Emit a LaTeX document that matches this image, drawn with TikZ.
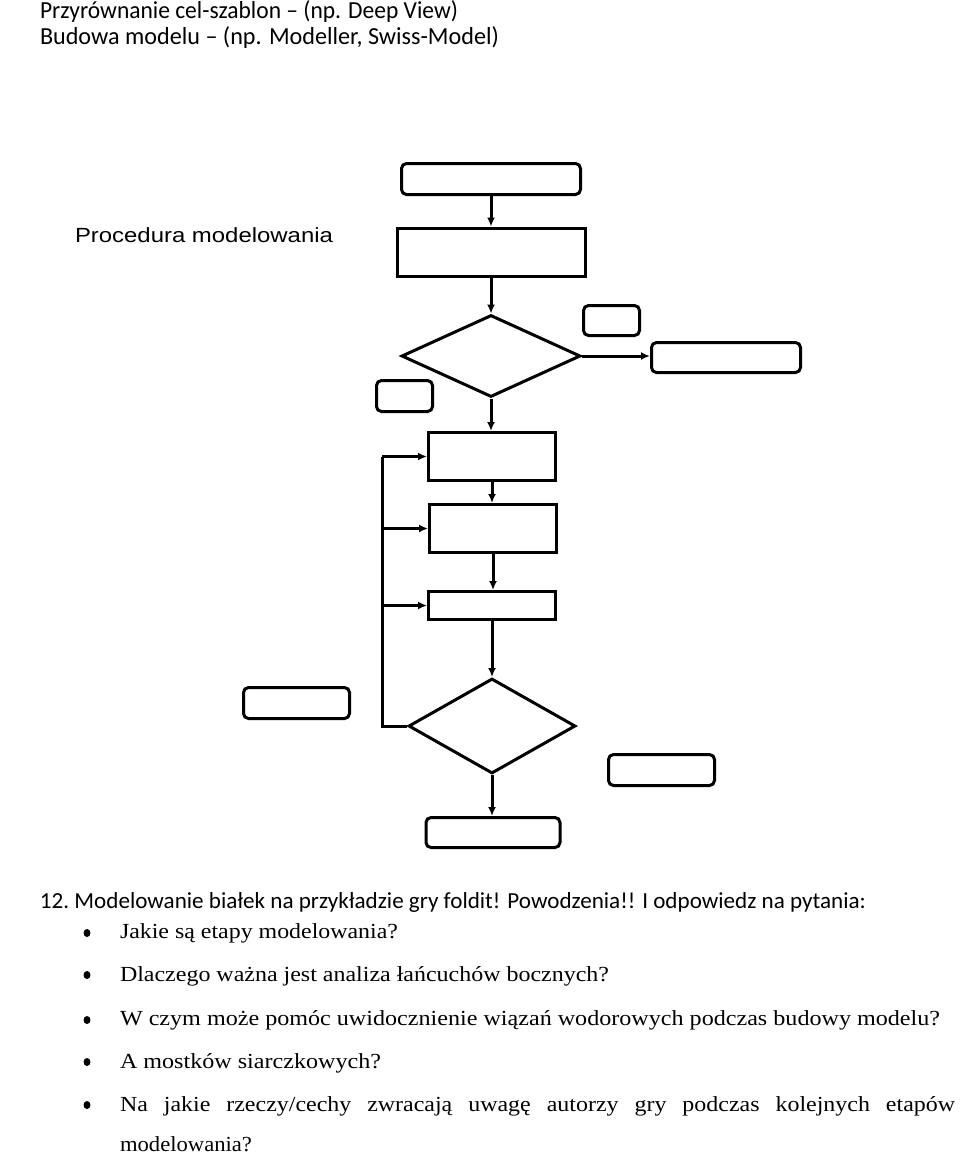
\documentclass[tikz,border=0pt]{standalone}
\usepackage{fontspec}
\usepackage{graphicx}
\setmainfont{Liberation Serif}
\newfontfamily\calibri{Carlito}
\newfontfamily\arialf{Liberation Sans}
\usetikzlibrary{shapes.geometric,arrows.meta}
\tikzset{
  ln/.style={line width=3pt},
  rbox/.style={draw, ln, rounded corners=5pt, inner sep=0pt},
  sbox/.style={draw, ln, inner sep=0pt},
  dia/.style={draw, ln, diamond, inner sep=0pt},
  arr/.style={ln, -{Latex[length=9pt,width=8pt]}},
  txt/.style={anchor=base west, inner sep=0pt, outer sep=0pt},
  bul/.style={fill=black, ellipse, inner sep=0pt, minimum width=7pt, minimum height=8pt}
}
\newcommand{\fit}[2]{\resizebox{#1}{\height}{#2}}
\begin{document}
\begin{tikzpicture}[x=1pt,y=-1pt]
\useasboundingbox (0,0) rectangle (960,1157);
% header text
\node[txt] (h1) at (40,18.5) {\fit{418pt}{\fontsize{24.5}{28}\calibri Przyrównanie cel-szablon – (np. Deep View)}};
\node[txt] (h2) at (40,44.5) {\fit{459pt}{\fontsize{24.5}{28}\calibri Budowa modelu – (np. Modeller, Swiss-Model)}};
\node[txt] (title) at (75,242) {\fit{258pt}{\fontsize{20.5}{24}\arialf Procedura modelowania}};
% flowchart
\node[rbox, minimum width=179pt, minimum height=31pt] (top) at (491,179) {};
\node[sbox, minimum width=188pt, minimum height=48pt] (r2) at (491,252) {};
\node[dia, minimum width=179pt, minimum height=82pt] (d1) at (491,356) {};
\node[rbox, minimum width=56pt, minimum height=30pt] (sr) at (611.5,320.5) {};
\node[rbox, minimum width=149pt, minimum height=30pt] (rb) at (726,357.5) {};
\node[rbox, minimum width=56pt, minimum height=31pt] (sl) at (404.5,396) {};
\node[sbox, minimum width=127pt, minimum height=48pt] (r3) at (492,456.5) {};
\node[sbox, minimum width=127pt, minimum height=48pt] (r4) at (493,528.5) {};
\node[sbox, minimum width=127pt, minimum height=28pt] (r5) at (492,605.5) {};
\node[dia, minimum width=167pt, minimum height=95pt] (d2) at (492,726) {};
\node[rbox, minimum width=106pt, minimum height=31pt] (lb2) at (296.5,703) {};
\node[rbox, minimum width=106pt, minimum height=31pt] (rb2) at (661.5,770) {};
\node[rbox, minimum width=134pt, minimum height=30pt] (fin) at (493,832.5) {};
% connectors
\draw[arr] (top.south) -- (top.south |- r2.north);
\draw[arr] (r2.south) -- (r2.south |- d1.north);
\draw[arr] (d1.east) -- (rb.west |- d1.east);
\draw[arr] (d1.south) -- (d1.south |- r3.north);
\draw[arr] (r3.south) -- (r3.south |- r4.north);
\draw[arr] (r4.south) -- (r4.south |- r5.north);
\draw[arr] (r5.south) -- (r5.south |- d2.north);
\draw[arr] (d2.south) -- (d2.south |- fin.north);
\coordinate (lp) at (382,726);
\coordinate (l3) at (382,456.5);
\coordinate (l4) at (382,528.5);
\coordinate (l5) at (382,605.5);
\draw[ln, line join=miter] (d2.west) -- (lp) -- (l3);
\draw[arr] (l3) -- (r3.west);
\draw[arr] (l4) -- (r4.west);
\draw[arr] (l5) -- (r5.west);
% questions
\node[txt] (q0) at (40,908) {\fit{826pt}{\fontsize{23}{26}\calibri 12.\ Modelowanie białek na przykładzie gry foldit! Powodzenia!! I odpowiedz na pytania:}};
\node[bul] (b1) at (87,933) {};
\node[bul] (b2) at (87,975) {};
\node[bul] (b3) at (87,1020) {};
\node[bul] (b4) at (87,1062) {};
\node[bul] (b5) at (87,1105) {};
\node[txt] (q1) at (120,938) {\fit{278pt}{\fontsize{21.5}{24}\selectfont Jakie są etapy modelowania?}};
\node[txt] (q2) at (120,981) {\fit{489pt}{\fontsize{21.5}{24}\selectfont Dlaczego ważna jest analiza łańcuchów bocznych?}};
\node[txt] (q3) at (120,1025) {\fit{820pt}{\fontsize{21.5}{24}\selectfont W czym może pomóc uwidocznienie wiązań wodorowych podczas budowy modelu?}};
\node[txt] (q4) at (120,1068) {\fit{261pt}{\fontsize{21.5}{24}\selectfont A mostków siarczkowych?}};
\node[txt] (q5) at (120,1111) {\fit{835pt}{\fontsize{21.5}{24}\selectfont\makebox[750pt][s]{Na jakie rzeczy/cechy zwracają uwagę autorzy gry podczas kolejnych etapów}}};
\node[txt] (q6) at (120,1151) {\fit{132pt}{\fontsize{21.5}{24}\selectfont modelowania?}};
\end{tikzpicture}
\end{document}
